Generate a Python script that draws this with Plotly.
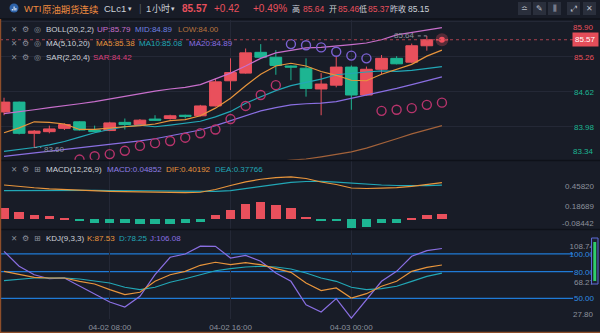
import plotly.graph_objects as go
import pandas as pd

W, H = 600, 333

# ---------------- data ----------------
times = ["2025-04-02 01:00", "2025-04-02 02:00", "2025-04-02 03:00", "2025-04-02 04:00",
         "2025-04-02 05:00", "2025-04-02 06:00", "2025-04-02 07:00", "2025-04-02 08:00",
         "2025-04-02 09:00", "2025-04-02 10:00", "2025-04-02 11:00", "2025-04-02 12:00",
         "2025-04-02 13:00", "2025-04-02 14:00", "2025-04-02 15:00", "2025-04-02 16:00",
         "2025-04-02 17:00", "2025-04-02 18:00", "2025-04-02 19:00", "2025-04-02 20:00",
         "2025-04-02 21:00", "2025-04-02 22:00", "2025-04-02 23:00", "2025-04-03 00:00",
         "2025-04-03 01:00", "2025-04-03 02:00", "2025-04-03 03:00", "2025-04-03 04:00",
         "2025-04-03 05:00", "2025-04-03 06:00"]
opens = [84.25, 84.43, 83.86, 83.89, 83.95, 84.07, 83.92, 83.91, 84.06, 84.02,
         84.12, 84.13, 84.19, 84.18, 84.36, 84.82, 84.96, 85.34, 85.25, 85.09,
         85.05, 84.67, 84.74, 85.07, 84.56, 85.03, 85.23, 85.16, 85.46, 85.57]
highs = [84.51, 84.44, 83.92, 84.00, 84.04, 84.08, 84.00, 84.07, 84.13, 84.12,
         84.19, 84.20, 84.20, 84.38, 84.86, 85.23, 85.41, 85.49, 85.38, 85.10,
         85.23, 84.96, 85.26, 85.10, 85.08, 85.29, 85.27, 85.50, 85.64, 85.57]
lows = [84.19, 83.84, 83.60, 83.86, 83.92, 83.91, 83.88, 83.90, 83.93, 84.00,
        84.09, 84.11, 84.13, 84.17, 84.35, 84.65, 84.95, 85.24, 84.93, 84.83,
        84.53, 84.19, 84.70, 84.29, 84.55, 84.94, 85.12, 85.14, 85.37, 85.57]
closes = [84.43, 83.86, 83.90, 83.94, 84.02, 83.92, 83.89, 84.05, 84.02, 84.10,
          84.10, 84.18, 84.17, 84.36, 84.80, 84.97, 85.33, 85.25, 85.10, 85.07,
          84.68, 84.76, 85.07, 84.56, 85.03, 85.23, 85.13, 85.46, 85.57, 85.57]

ma5 = [83.87, 83.96, 84.07, 84.06, 84.03, 83.93, 83.93, 83.96, 83.98, 84.00,
       84.03, 84.09, 84.11, 84.18, 84.32, 84.50, 84.73, 84.94, 85.09, 85.14,
       85.09, 84.99, 84.92, 84.83, 84.82, 84.94, 85.03, 85.12, 85.27, 85.38]
ma10 = [83.53, 83.56, 83.60, 83.65, 83.71, 83.79, 83.87, 83.93, 83.98, 84.01,
        83.98, 84.01, 84.04, 84.08, 84.16, 84.26, 84.41, 84.53, 84.64, 84.73,
        84.79, 84.85, 84.93, 84.96, 84.98, 85.00, 84.99, 85.01, 85.05, 85.08]
ma20 = [83.44, 83.47, 83.50, 83.54, 83.57, 83.60, 83.63, 83.66, 83.69, 83.72,
        83.76, 83.81, 83.87, 83.92, 84.00, 84.09, 84.18, 84.27, 84.33, 84.38,
        84.40, 84.41, 84.44, 84.50, 84.55, 84.61, 84.68, 84.75, 84.82, 84.89]
boll_up = [84.22, 84.25, 84.29, 84.33, 84.36, 84.40, 84.44, 84.49, 84.54, 84.59,
           84.63, 84.67, 84.70, 84.75, 84.85, 84.96, 85.09, 85.23, 85.33, 85.38,
           85.42, 85.43, 85.45, 85.48, 85.51, 85.57, 85.66, 85.70, 85.75, 85.79]
boll_low = [82.66, 82.69, 82.71, 82.75, 82.78, 82.80, 82.82, 82.83, 82.84, 82.85,
            82.89, 82.95, 83.04, 83.09, 83.15, 83.22, 83.27, 83.28, 83.34, 83.37,
            83.39, 83.43, 83.47, 83.52, 83.59, 83.67, 83.76, 83.85, 83.93, 84.00]
sar = [83.05, 83.10, 83.15, 83.20, 83.25, 83.38, 83.44, 83.48, 83.54, 83.63,
       83.68, 83.72, 83.78, 83.86, 83.93, 84.12, 84.36, 84.56, 84.74, 85.49,
       85.47, 85.43, 85.35, 85.28, 85.23, 84.27, 84.29, 84.32, 84.38, 84.42]
sar_below = [True] * 19 + [False] * 6 + [True] * 5

dif = [0.472, 0.451, 0.434, 0.420, 0.409, 0.399, 0.391, 0.385, 0.380, 0.376,
       0.372, 0.369, 0.367, 0.372, 0.410, 0.465, 0.516, 0.551, 0.574, 0.585,
       0.562, 0.513, 0.479, 0.431, 0.424, 0.428, 0.435, 0.454, 0.482, 0.504]
dea = [0.394, 0.396, 0.398, 0.399, 0.400, 0.400, 0.399, 0.396, 0.394, 0.391,
       0.388, 0.385, 0.382, 0.381, 0.385, 0.395, 0.424, 0.451, 0.479, 0.507,
       0.520, 0.523, 0.513, 0.497, 0.483, 0.472, 0.465, 0.461, 0.464, 0.469]
macd_hist = [0.161, 0.106, 0.061, 0.041, 0.023, -0.018, -0.045, -0.045, -0.055, -0.059,
             -0.059, -0.059, -0.055, -0.032, 0.055, 0.128, 0.207, 0.244, 0.197, 0.161,
             0.032, -0.023, -0.023, -0.124, -0.101, -0.045, -0.045, 0.012, 0.059, 0.069]

kdj_k = [80.4, 77.1, 73.7, 72.9, 72.9, 69.2, 66.2, 59.8, 54.2, 56.9,
         69.2, 76.6, 80.4, 87.2, 90.6, 87.9, 90.1, 87.9, 83.4, 79.3,
         67.3, 58.7, 61.7, 50.4, 55.3, 63.6, 69.2, 80.4, 84.9, 87.5]
kdj_d = [69.9, 71.8, 72.9, 72.9, 72.9, 71.8, 69.9, 67.3, 62.5, 59.8,
         62.5, 68.1, 72.1, 76.6, 81.1, 83.4, 85.3, 86.1, 85.3, 83.0,
         78.5, 72.9, 69.2, 62.5, 59.8, 60.9, 63.6, 69.2, 74.8, 78.3]
kdj_j = [102.9, 86.1, 76.6, 72.1, 72.9, 63.6, 54.9, 46.0, 40.3, 52.4,
         76.6, 96.2, 99.9, 108.7, 108.5, 95.4, 98.4, 91.7, 78.5, 69.2,
         42.9, 34.7, 49.7, 27.8, 48.5, 69.2, 80.4, 97.3, 103.6, 106.1]
kdj_levels = [100, 80, 50]

price_ticks = [85.26, 84.62, 83.98]
price_edge_labels = ["85.90", "83.34"]
macd_ticks = [0.45820, 0.18689]
macd_edge_label = "-0.08442"
kdj_gray_ticks = [108.74, 68.27]
kdj_edge_label = "27.80"
time_ticks = ["2025-04-02 08:00", "2025-04-02 16:00", "2025-04-03 00:00"]
time_tick_text = ["04-02 08:00", "04-02 16:00", "04-03 00:00"]

last_price = 85.57
prev_close = 85.15
vis_high, vis_high_i = 85.64, 28
vis_low, vis_low_i = 83.60, 2

# ---------------- style ----------------
BG = "#181c27"
RED = "#e9505c"
GREEN = "#1db592"
ORANGE = "#e8953c"
TEAL = "#22a7b6"
PURPLE = "#8a6fe2"
PINK = "#c86fcc"
BROWN = "#a3623a"
SAR_RED = "#b8346c"
SAR_PURPLE = "#7c62d4"
GRID = "#242836"
GRAY = "#8c919c"
LIGHT = "#cdd1d9"
BLUE_LINE = "#1f7ad6"
FONT = "Liberation Sans, Noto Sans CJK SC, sans-serif"
CJK = "Noto Sans CJK SC, sans-serif"

def px(x):
    return x / W

def py(y):
    return 1 - y / H

ts = pd.to_datetime(times)
x_start = ts[0] - pd.Timedelta(minutes=16)
x_end = ts[0] + pd.Timedelta(hours=37.68)

fig = go.Figure()

# main pane
fig.add_trace(go.Candlestick(
    x=times, open=opens, high=highs, low=lows, close=closes,
    increasing=dict(line=dict(color=RED, width=1), fillcolor=RED),
    decreasing=dict(line=dict(color=GREEN, width=1), fillcolor=GREEN),
    whiskerwidth=0, xaxis="x", yaxis="y", hoverinfo="skip", showlegend=False))

for vals, col in [(boll_low, BROWN), (boll_up, PINK), (ma20, PURPLE), (ma10, TEAL), (ma5, ORANGE)]:
    fig.add_trace(go.Scatter(x=times, y=vals, mode="lines", line=dict(color=col, width=1.2),
                             xaxis="x", yaxis="y", hoverinfo="skip", showlegend=False))

sar_lo = [v if b else None for v, b in zip(sar, sar_below)]
sar_hi = [None if b else v for v, b in zip(sar, sar_below)]
fig.add_trace(go.Scatter(x=times, y=sar_lo, mode="markers",
                         marker=dict(symbol="circle-open", size=9, color=SAR_RED, line=dict(width=1.4)),
                         xaxis="x", yaxis="y", hoverinfo="skip", showlegend=False))
fig.add_trace(go.Scatter(x=times, y=sar_hi, mode="markers",
                         marker=dict(symbol="circle-open", size=9, color=SAR_PURPLE, line=dict(width=1.4)),
                         xaxis="x", yaxis="y", hoverinfo="skip", showlegend=False))

# live price dot
fig.add_trace(go.Scatter(x=[times[-1]], y=[last_price], mode="markers",
                         marker=dict(size=13, color="rgba(233,80,92,0.30)"),
                         xaxis="x", yaxis="y", hoverinfo="skip", showlegend=False))
fig.add_trace(go.Scatter(x=[times[-1]], y=[last_price], mode="markers",
                         marker=dict(size=6, color="#f2505e"),
                         xaxis="x", yaxis="y", hoverinfo="skip", showlegend=False))

# MACD pane
fig.add_trace(go.Bar(x=times, y=macd_hist,
                     marker=dict(color=[RED if v >= 0 else GREEN for v in macd_hist], line=dict(width=0)),
                     width=[0.62 * 3600 * 1000] * len(times),
                     xaxis="x2", yaxis="y2", hoverinfo="skip", showlegend=False))
fig.add_trace(go.Scatter(x=times, y=dea, mode="lines", line=dict(color=TEAL, width=1.2),
                         xaxis="x2", yaxis="y2", hoverinfo="skip", showlegend=False))
fig.add_trace(go.Scatter(x=times, y=dif, mode="lines", line=dict(color=ORANGE, width=1.2),
                         xaxis="x2", yaxis="y2", hoverinfo="skip", showlegend=False))

# KDJ pane
for vals, col in [(kdj_j, PURPLE), (kdj_d, TEAL), (kdj_k, ORANGE)]:
    fig.add_trace(go.Scatter(x=times, y=vals, mode="lines", line=dict(color=col, width=1.2),
                             xaxis="x3", yaxis="y3", hoverinfo="skip", showlegend=False))

shapes = []
for lv in kdj_levels:
    shapes.append(dict(type="line", xref="x3 domain", yref="y3", x0=0, x1=1, y0=lv, y1=lv,
                       line=dict(color=BLUE_LINE, width=1.3), layer="below"))
# current price dotted line
shapes.append(dict(type="line", xref="x domain", yref="y", x0=0, x1=1, y0=last_price, y1=last_price,
                   line=dict(color="#a8404f", width=1, dash="dot")))
# high / low markers
hi_t = ts[vis_high_i]
lo_t = ts[vis_low_i]
shapes.append(dict(type="line", xref="x", yref="y", x0=hi_t - pd.Timedelta(minutes=36), x1=hi_t,
                   y0=vis_high, y1=vis_high, line=dict(color=GRAY, width=1, dash="dot")))
shapes.append(dict(type="line", xref="x", yref="y", x0=lo_t, x1=lo_t + pd.Timedelta(minutes=28),
                   y0=vis_low, y1=vis_low, line=dict(color=GRAY, width=1, dash="dot")))
# pane separators
for yy in [19, 160.5, 229.5]:
    shapes.append(dict(type="line", xref="paper", yref="paper", x0=0, x1=1, y0=py(yy), y1=py(yy),
                       line=dict(color="#0e1119", width=1.5)))
# window focus border (left / bottom)
shapes.append(dict(type="line", xref="paper", yref="paper", x0=px(0.6), x1=px(0.6), y0=py(333), y1=py(19),
                   line=dict(color="#8d4e2a", width=1.2)))
shapes.append(dict(type="line", xref="paper", yref="paper", x0=0, x1=1, y0=py(332.4), y1=py(332.4),
                   line=dict(color="#8d4e2a", width=1.2)))
# header buttons
for x0 in [518, 533, 548, 567, 583]:
    shapes.append(dict(type="rect", xref="paper", yref="paper", x0=px(x0), x1=px(x0 + 13),
                       y0=py(15), y1=py(2), fillcolor="#2a2f3c", line=dict(width=0)))
# title icon
shapes.append(dict(type="circle", xref="paper", yref="paper", x0=px(9.5), x1=px(18.5), y0=py(12.5), y1=py(3.5),
                   fillcolor="#2e63aa", line=dict(width=0)))
for bx, bt in [(11.8, 9), (13.6, 6.5), (15.4, 8)]:
    shapes.append(dict(type="rect", xref="paper", yref="paper", x0=px(bx), x1=px(bx + 1),
                       y0=py(10.5), y1=py(bt), fillcolor="white", line=dict(width=0)))
# KDJ scroll widget
shapes.append(dict(type="rect", xref="paper", yref="paper", x0=px(591.5), x1=px(598), y0=py(284), y1=py(238),
                   fillcolor="#1c2230", line=dict(color="#5d6ad8", width=1)))
shapes.append(dict(type="rect", xref="paper", yref="paper", x0=px(593.3), x1=px(596.2), y0=py(281), y1=py(242),
                   fillcolor="#2fcf6a", line=dict(width=0)))

ann = []

def text(x, y, s, color, size=8, anchor="left", bold=False, family=FONT):
    ann.append(dict(xref="paper", yref="paper", x=px(x), y=py(y), text=("<b>%s</b>" % s) if bold else s,
                    showarrow=False, xanchor=anchor, yanchor="middle",
                    font=dict(family=family, size=size, color=color)))

# header
text(21.5, 8.5, "WTI", "#ef8a3e", 9.5)
text(40, 8.5, "原油期货连续", "#ef8a3e", 9.4, family=CJK)
text(102, 8.5, "CLc1", LIGHT, 9.5)
text(126, 8.5, "▾", LIGHT, 7)
text(136.5, 8.5, "|", "#555b68", 10)
text(143.5, 8.5, "1", LIGHT, 9.5)
text(149.5, 8.5, "小时", LIGHT, 9, family=CJK)
text(169.5, 8.5, "▾", LIGHT, 7)
text(179.5, 8.5, "85.57", RED, 10, bold=True)
text(211.5, 8.5, "+0.42", RED, 10)
text(250.5, 8.5, "+0.49%", RED, 10)
text(289.5, 8.5, "高", LIGHT, 8, family=CJK)
text(301.5, 8.5, "85.64", RED, 8.5)
text(326.5, 8.5, "开", LIGHT, 8, family=CJK)
text(335.5, 8.5, "85.46", RED, 8.5)
text(356.5, 8.5, "低", LIGHT, 8, family=CJK)
text(366, 8.5, "85.37", RED, 8.5)
text(387.5, 8.5, "昨收", LIGHT, 8, family=CJK)
text(405.5, 8.5, "85.15", LIGHT, 8.5)
for cx, glyph in [(524.5, "≏"), (539.5, "✎"), (554.5, "⫼"), (573.5, "⤢"), (589.5, "✕")]:
    text(cx, 8.5, glyph, "#b9bec8", 8, anchor="center", family="DejaVu Sans")

# indicator legends
def legend_row(y, icon3, items):
    text(13.5, y, "✕", GRAY, 7.5, anchor="center", family="DejaVu Sans")
    text(25, y, "⚙", GRAY, 8, anchor="center", family="DejaVu Sans")
    text(37.5, y, icon3, GRAY, 8, anchor="center", family="DejaVu Sans")
    for x, s, c in items:
        text(x, y, s, c, 8)

legend_row(30, "◎", [(44, "BOLL(20,2,2)", LIGHT), (95, "UP:85.79", PINK),
                     (133, "MID:84.89", "#6f80e2"), (176, "LOW:84.00", "#b8743e")])
legend_row(43.5, "◎", [(44, "MA(5,10,20)", LIGHT), (94, "MA5:85.38", ORANGE),
                       (137, "MA10:85.08", TEAL), (186.5, "MA20:84.89", PURPLE)])
legend_row(57, "◎", [(44, "SAR(2,20,4)", LIGHT), (91, "SAR:84.42", "#d8407c")])
legend_row(169, "⊞", [(44, "MACD(12,26,9)", LIGHT), (105, "MACD:0.04852", "#8f7de4"),
                      (164, "DIF:0.40192", ORANGE), (213, "DEA:0.37766", TEAL)])
legend_row(238.5, "⊞", [(44, "KDJ(9,3,3)", LIGHT), (85.5, "K:87.53", ORANGE),
                        (117, "D:78.25", TEAL), (148, "J:106.08", PURPLE)])

# high / low value labels
ann.append(dict(xref="x", yref="y", x=hi_t - pd.Timedelta(minutes=38), y=vis_high, text="%.2f" % vis_high,
                showarrow=False, xanchor="right", yanchor="middle", font=dict(family=FONT, size=8, color=GRAY)))
ann.append(dict(xref="x", yref="y", x=lo_t + pd.Timedelta(minutes=30), y=vis_low - 0.03, text="%.2f" % vis_low,
                showarrow=False, xanchor="left", yanchor="middle", font=dict(family=FONT, size=8, color=GRAY)))
# last price tag on the axis
ann.append(dict(xref="paper", yref="y", x=px(599), y=last_price, text="%.2f" % last_price, showarrow=False,
                xanchor="right", yanchor="middle", bgcolor="#e34d59", borderpad=2,
                font=dict(family=FONT, size=8, color="white")))
# axis labels that the chart clamps inside the pane edges
text(596, 27, price_edge_labels[0], RED, 8, anchor="right")
text(596, 151, price_edge_labels[1], GREEN, 8, anchor="right")
text(596, 223.5, macd_edge_label, GRAY, 8, anchor="right")
text(596, 314, kdj_edge_label, GRAY, 8, anchor="right")

def colored(val, fmt, col):
    return "<span style='color:%s'>%s</span>" % (col, fmt % val)

price_text = [colored(v, "%.2f", RED if v >= prev_close else GREEN) for v in price_ticks]
kdj_tickvals = kdj_gray_ticks + kdj_levels
kdj_ticktext = ["%.2f" % v for v in kdj_gray_ticks] + [colored(v, "%.2f", "#2f8de4") for v in kdj_levels]

xcommon = dict(type="date", range=[x_start, x_end], domain=[0, px(573)], showgrid=True, gridcolor=GRID,
               gridwidth=1, tickvals=time_ticks, ticktext=time_tick_text, zeroline=False, showline=False,
               ticks="", fixedrange=True)
ycommon = dict(anchor="free", position=px(597), side="right", ticklabelposition="inside", ticks="",
               showline=False, zeroline=False, fixedrange=True, tickfont=dict(family=FONT, size=8, color=GRAY))

fig.update_layout(
    width=W, height=H, margin=dict(l=0, r=0, t=0, b=0),
    paper_bgcolor=BG, plot_bgcolor=BG, showlegend=False, bargap=0,
    boxgap=0.12, boxgroupgap=0.12, hovermode=False,
    font=dict(family=FONT, size=8, color=GRAY),
    xaxis=dict(xcommon, anchor="y", showticklabels=False, rangeslider=dict(visible=False)),
    xaxis2=dict(xcommon, anchor="y2", showticklabels=False),
    xaxis3=dict(xcommon, anchor="y3", showticklabels=True,
                tickfont=dict(family=FONT, size=8, color=GRAY), ticklabelstandoff=2),
    yaxis=dict(ycommon, domain=[py(160), py(19)], range=[83.372, 85.949],
               tickvals=price_ticks + [85.90], ticktext=price_text + [""], showgrid=True, gridcolor=GRID),
    yaxis2=dict(ycommon, domain=[py(229), py(161)], range=[-0.134, 0.8026],
                tickvals=macd_ticks, ticktext=["%.5f" % v for v in macd_ticks], showgrid=False),
    yaxis3=dict(ycommon, domain=[py(319), py(230)], range=[26.85, 126.85],
                tickvals=kdj_tickvals, ticktext=kdj_ticktext, showgrid=False),
    shapes=shapes, annotations=ann,
)

fig.write_html("out.html")
